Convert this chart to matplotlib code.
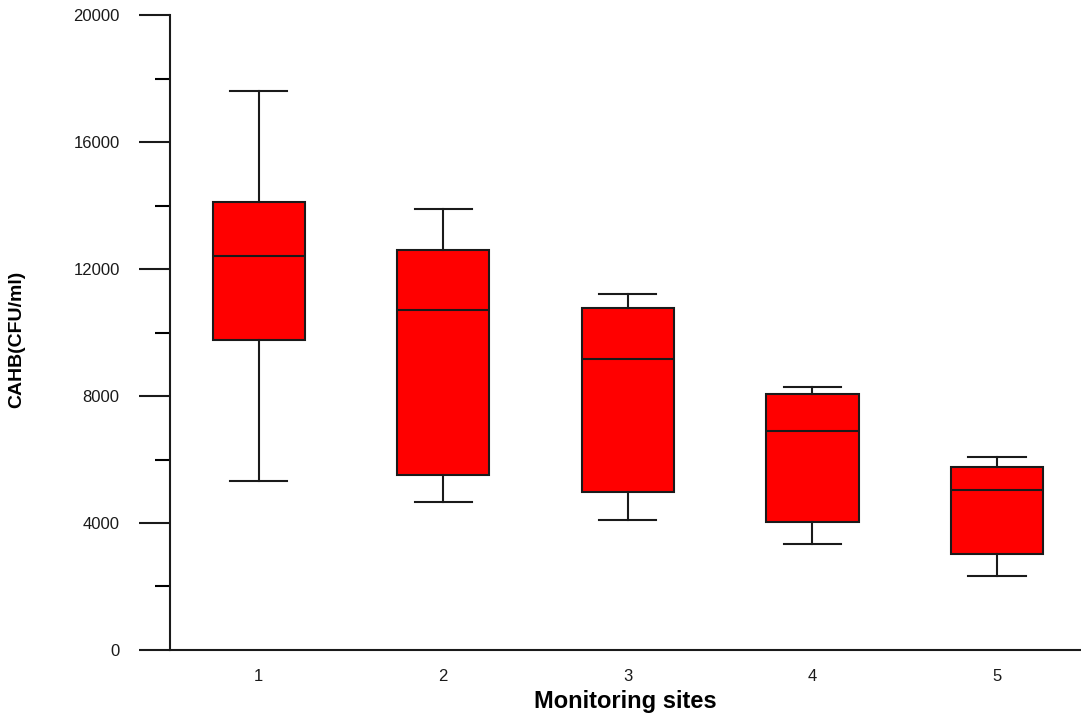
import numpy as np
import matplotlib.pyplot as plt
from matplotlib.ticker import MultipleLocator

# box-plot summary (CFU/ml)
sites = ["1", "2", "3", "4", "5"]
whisker_low = [5330, 4660, 4100, 3330, 2340]
q1 = [9780, 5520, 4990, 4040, 3030]
median = [12410, 10715, 9160, 6910, 5040]
q3 = [14120, 12590, 10760, 8060, 5750]
whisker_high = [17600, 13900, 11200, 8280, 6080]


def build_stats():
    stats = []
    for i, name in enumerate(sites):
        stats.append({
            "label": name,
            "whislo": whisker_low[i],
            "q1": q1[i],
            "med": median[i],
            "q3": q3[i],
            "whishi": whisker_high[i],
            "fliers": [],
        })
    return stats


def main():
    plt.rcParams["font.family"] = ["Liberation Sans", "DejaVu Sans"]

    fig = plt.figure(figsize=(10.81, 7.19), dpi=100)
    ax = fig.add_axes([0.157, 0.096, 0.843, 0.883])

    ax.bxp(
        build_stats(),
        positions=np.arange(1, len(sites) + 1),
        widths=0.5,
        patch_artist=True,
        showfliers=False,
        boxprops=dict(facecolor="#ff0000", edgecolor="#1a1a1a", linewidth=1.5),
        medianprops=dict(color="#1a1a1a", linewidth=1.5),
        whiskerprops=dict(color="#1a1a1a", linewidth=1.5),
        capprops=dict(color="#1a1a1a", linewidth=1.5),
        capwidths=0.31,
    )

    ax.set_xlim(0.518, 5.455)
    ax.set_ylim(0, 20000)

    ax.spines["top"].set_visible(False)
    ax.spines["right"].set_visible(False)
    for s in ["left", "bottom"]:
        ax.spines[s].set_linewidth(1.5)
        ax.spines[s].set_color("#1a1a1a")

    ax.yaxis.set_major_locator(MultipleLocator(4000))
    ax.yaxis.set_minor_locator(MultipleLocator(2000))
    ax.tick_params(axis="y", which="major", length=22, width=1.5, pad=14,
                   labelsize=12, colors="#1a1a1a")
    ax.tick_params(axis="y", which="minor", length=11, width=1.5)
    ax.tick_params(axis="x", which="both", length=0, pad=14, labelsize=12,
                   colors="#1a1a1a")

    ax.set_xlabel("Monitoring sites", fontsize=17, fontweight="bold", labelpad=4)
    ax.set_ylabel("CAHB(CFU/ml)", fontsize=14, fontweight="bold")
    ax.yaxis.set_label_coords(-0.158, 0.49)

    fig.savefig("out.png", dpi=100)


if __name__ == "__main__":
    main()
